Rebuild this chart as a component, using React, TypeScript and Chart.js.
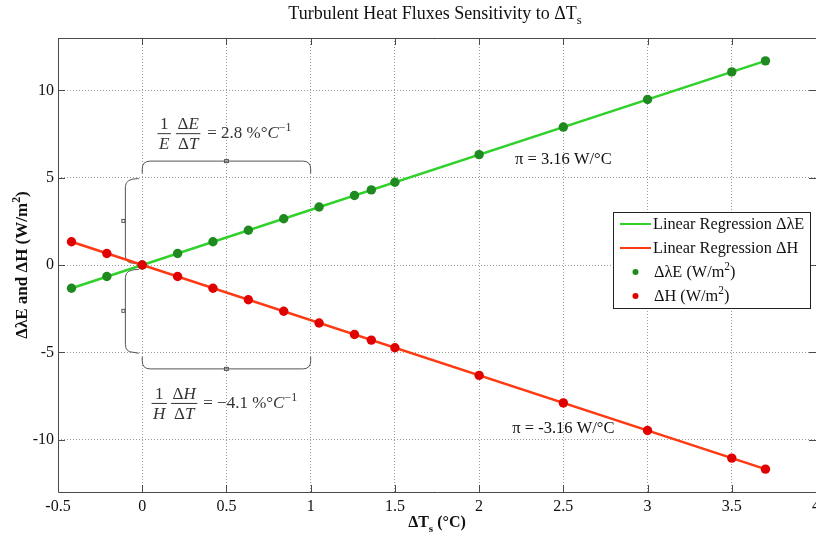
import React, { useEffect, useRef } from "react";
import { Chart, registerables } from "chart.js";

Chart.register(...registerables);

// Surface temperature perturbation (°C) and flux responses (W/m²)
const deltaTs = [-0.42, -0.21, 0, 0.21, 0.42, 0.63, 0.84, 1.05, 1.26, 1.36, 1.5, 2, 2.5, 3, 3.5, 3.7];
const deltaLE = [-1.33, -0.66, 0, 0.66, 1.33, 1.99, 2.65, 3.32, 3.98, 4.3, 4.74, 6.32, 7.9, 9.48, 11.06, 11.69];
const deltaH = [1.33, 0.66, 0, -0.66, -1.33, -1.99, -2.65, -3.32, -3.98, -4.3, -4.74, -6.32, -7.9, -9.48, -11.06, -11.69];

// Regression line end points
const fitTs = [-0.42, 3.7];
const fitLE = [-1.33, 11.69];
const fitH = [1.33, -11.69];

const xTickVals = [-0.5, 0, 0.5, 1, 1.5, 2, 2.5, 3, 3.5, 4];
const yTickVals = [-10, -5, 0, 5, 10];

const slopeLabels = ["π = 3.16 W/°C", "π = -3.16 W/°C"];
const sensLE = "2.8";
const sensH = "−4.1";

const SERIF = "'Liberation Serif', 'Times New Roman', serif";
const GREEN_LINE = "#2fd12a";
const GREEN_DOT = "#1f8a1f";
const RED_LINE = "#ff3a12";
const RED_DOT = "#e00000";

type Part = { t: string; italic?: boolean; sup?: boolean; sub?: boolean; bold?: boolean };

function runWidth(ctx: CanvasRenderingContext2D, parts: Part[], size: number) {
  let w = 0;
  for (const p of parts) {
    const s = p.sup || p.sub ? size * 0.7 : size;
    ctx.font = `${p.italic ? "italic " : ""}${p.bold ? "bold " : ""}${s}px ${SERIF}`;
    w += ctx.measureText(p.t).width;
  }
  return w;
}

function drawRun(
  ctx: CanvasRenderingContext2D,
  parts: Part[],
  x: number,
  y: number,
  size: number,
  align: "left" | "center" = "left"
) {
  let cx = align === "center" ? x - runWidth(ctx, parts, size) / 2 : x;
  ctx.textAlign = "left";
  ctx.textBaseline = "alphabetic";
  for (const p of parts) {
    const s = p.sup || p.sub ? size * 0.7 : size;
    ctx.font = `${p.italic ? "italic " : ""}${p.bold ? "bold " : ""}${s}px ${SERIF}`;
    const dy = p.sup ? -size * 0.4 : p.sub ? size * 0.3 : 0;
    ctx.fillText(p.t, cx, y + dy);
    cx += ctx.measureText(p.t).width;
  }
}

function drawFrac(ctx: CanvasRenderingContext2D, num: Part[], den: Part[], cx: number, barY: number, size: number) {
  const w = Math.max(runWidth(ctx, num, size), runWidth(ctx, den, size)) + 3;
  drawRun(ctx, num, cx, barY - 4, size, "center");
  drawRun(ctx, den, cx, barY + size - 1, size, "center");
  ctx.beginPath();
  ctx.moveTo(cx - w / 2, barY + 0.5);
  ctx.lineTo(cx + w / 2, barY + 0.5);
  ctx.lineWidth = 1;
  ctx.stroke();
}

// horizontal bracket: flat run at yFlat, ends hooked toward yEnd
function hBracket(ctx: CanvasRenderingContext2D, x0: number, x1: number, yFlat: number, yEnd: number) {
  const r = Math.min(8, Math.abs(yEnd - yFlat));
  const s = Math.sign(yEnd - yFlat);
  ctx.beginPath();
  ctx.moveTo(x0, yEnd);
  ctx.lineTo(x0, yFlat + s * r);
  ctx.quadraticCurveTo(x0, yFlat, x0 + r, yFlat);
  ctx.lineTo(x1 - r, yFlat);
  ctx.quadraticCurveTo(x1, yFlat, x1, yFlat + s * r);
  ctx.lineTo(x1, yEnd);
  ctx.stroke();
  const mx = (x0 + x1) / 2;
  ctx.strokeRect(mx - 2, yFlat - 1.5, 4, 3);
}

// vertical bracket: flat run at xFlat, ends hooked toward xEnd
function vBracket(ctx: CanvasRenderingContext2D, y0: number, y1: number, xFlat: number, xEnd: number) {
  const r = Math.min(8, Math.abs(xEnd - xFlat));
  const s = Math.sign(xEnd - xFlat);
  ctx.beginPath();
  ctx.moveTo(xEnd, y0);
  ctx.quadraticCurveTo(xFlat, y0, xFlat, y0 + r);
  ctx.lineTo(xFlat, y1 - r);
  ctx.quadraticCurveTo(xFlat, y1, xFlat + s * r, y1);
  ctx.lineTo(xEnd, y1 + 1);
  ctx.stroke();
  const my = (y0 + y1) / 2;
  ctx.strokeRect(xFlat - 3.5, my - 1.5, 3, 3);
}

const decorations = {
  id: "decorations",
  beforeDatasetsDraw(chart: any) {
    const { ctx, chartArea: a, scales } = chart;
    const xs = scales.x;
    const ys = scales.y;
    ctx.save();
    // plot frame
    ctx.strokeStyle = "#4a4a4a";
    ctx.lineWidth = 1;
    ctx.beginPath();
    ctx.moveTo(a.right + 5, Math.round(a.top) + 0.5);
    ctx.lineTo(Math.round(a.left) + 0.5, Math.round(a.top) + 0.5);
    ctx.lineTo(Math.round(a.left) + 0.5, Math.round(a.bottom) + 0.5);
    ctx.lineTo(a.right + 5, Math.round(a.bottom) + 0.5);
    ctx.stroke();
    // inward tick marks
    ctx.beginPath();
    for (const v of xTickVals) {
      const px = Math.round(xs.getPixelForValue(v)) + 0.5;
      ctx.moveTo(px, a.top);
      ctx.lineTo(px, a.top + 7);
      ctx.moveTo(px, a.bottom);
      ctx.lineTo(px, a.bottom - 7);
    }
    for (const v of yTickVals) {
      const py = Math.round(ys.getPixelForValue(v)) + 0.5;
      ctx.moveTo(a.left, py);
      ctx.lineTo(a.left + 7, py);
      ctx.moveTo(a.right, py);
      ctx.lineTo(a.right - 7, py);
    }
    ctx.stroke();

    // brackets
    ctx.strokeStyle = "#555";
    ctx.lineWidth = 1;
    const bx0 = xs.getPixelForValue(0);
    const bx1 = xs.getPixelForValue(1.0);
    hBracket(ctx, bx0, bx1, ys.getPixelForValue(5.95), ys.getPixelForValue(5.25));
    hBracket(ctx, bx0, bx1, ys.getPixelForValue(-5.95), ys.getPixelForValue(-5.25));
    const lx = xs.getPixelForValue(-0.1);
    const le = xs.getPixelForValue(-0.02);
    vBracket(ctx, ys.getPixelForValue(4.95), ys.getPixelForValue(0.1), lx, le);
    vBracket(ctx, ys.getPixelForValue(-0.25), ys.getPixelForValue(-5.0), lx, le);
    ctx.restore();
  },
  afterDatasetsDraw(chart: any) {
    const { ctx, chartArea: a, scales } = chart;
    const xs = scales.x;
    const ys = scales.y;
    ctx.save();

    // sensitivity expressions
    ctx.fillStyle = "#333";
    ctx.strokeStyle = "#333";
    const ox = xs.getPixelForValue(0);
    const topBar = ys.getPixelForValue(7.55);
    drawFrac(ctx, [{ t: "1" }], [{ t: "E", italic: true }], ox + 22, topBar, 17);
    drawFrac(ctx, [{ t: "Δ" }, { t: "E", italic: true }], [{ t: "Δ" }, { t: "T", italic: true }], ox + 46, topBar, 17);
    drawRun(ctx, [{ t: "= " + sensLE + " %°" }, { t: "C", italic: true }, { t: "−1", sup: true }], ox + 65, topBar + 5, 17);

    const botBar = ys.getPixelForValue(-7.9);
    drawFrac(ctx, [{ t: "1" }], [{ t: "H", italic: true }], ox + 17, botBar, 17);
    drawFrac(ctx, [{ t: "Δ" }, { t: "H", italic: true }], [{ t: "Δ" }, { t: "T", italic: true }], ox + 42, botBar, 17);
    drawRun(ctx, [{ t: "= " + sensH + " %°" }, { t: "C", italic: true }, { t: "−1", sup: true }], ox + 61, botBar + 5, 17);

    // slope labels
    ctx.fillStyle = "#111";
    drawRun(ctx, [{ t: slopeLabels[0] }], xs.getPixelForValue(2.5), ys.getPixelForValue(5.8), 16.5, "center");
    drawRun(ctx, [{ t: slopeLabels[1] }], xs.getPixelForValue(2.5), ys.getPixelForValue(-9.6), 16.5, "center");

    // legend
    const lx = 613.5;
    const ly = 212.5;
    const lw = 197;
    const lh = 96;
    ctx.fillStyle = "#fff";
    ctx.fillRect(lx, ly, lw, lh);
    ctx.strokeStyle = "#222";
    ctx.lineWidth = 1;
    ctx.strokeRect(lx, ly, lw, lh);
    const ds = chart.data.datasets;
    const rowY = [224, 248, 272, 296];
    const legendParts: Part[][] = [
      [{ t: ds[0].label }],
      [{ t: ds[1].label }],
      [{ t: "ΔλE (W/m" }, { t: "2", sup: true }, { t: ")" }],
      [{ t: "ΔH (W/m" }, { t: "2", sup: true }, { t: ")" }],
    ];
    for (let i = 0; i < 4; i++) {
      const y = rowY[i];
      if (i < 2) {
        ctx.strokeStyle = ds[i].borderColor;
        ctx.lineWidth = 2;
        ctx.beginPath();
        ctx.moveTo(620, y);
        ctx.lineTo(651, y);
        ctx.stroke();
      } else {
        ctx.fillStyle = ds[i].backgroundColor;
        ctx.beginPath();
        ctx.arc(635.5, y, 3, 0, Math.PI * 2);
        ctx.fill();
      }
      ctx.fillStyle = "#111";
      drawRun(ctx, legendParts[i], i < 2 ? 653 : 654, y + 5, 16.3, "left");
    }

    // title and axis titles
    ctx.fillStyle = "#111";
    const cx = (a.left + a.right) / 2;
    drawRun(ctx, [{ t: "Turbulent Heat Fluxes Sensitivity to ΔT" }, { t: "s", sub: true }], cx - 2, 19, 18, "center");
    drawRun(ctx, [{ t: "ΔT", bold: true }, { t: "s", bold: true, sub: true }, { t: " (°C)", bold: true }], cx, 527, 16, "center");
    ctx.save();
    ctx.translate(27, (a.top + a.bottom) / 2);
    ctx.rotate(-Math.PI / 2);
    drawRun(ctx, [{ t: "ΔλE and ΔH (W/m", bold: true }, { t: "2", bold: true, sup: true }, { t: ")", bold: true }], 0, 0, 17, "center");
    ctx.restore();

    ctx.restore();
  },
};

export default function App() {
  const canvasRef = useRef<HTMLCanvasElement>(null);

  useEffect(() => {
    if (!canvasRef.current) return;
    const pts = (xs: number[], ys: number[]) => xs.map((x, i) => ({ x, y: ys[i] }));
    const chart = new Chart(canvasRef.current, {
      type: "line",
      data: {
        datasets: [
          {
            label: "Linear Regression ΔλE",
            data: pts(fitTs, fitLE),
            borderColor: GREEN_LINE,
            backgroundColor: GREEN_LINE,
            borderWidth: 2.5,
            pointRadius: 0,
            order: 3,
          },
          {
            label: "Linear Regression ΔH",
            data: pts(fitTs, fitH),
            borderColor: RED_LINE,
            backgroundColor: RED_LINE,
            borderWidth: 2.5,
            pointRadius: 0,
            order: 2,
          },
          {
            label: "ΔλE (W/m²)",
            data: pts(deltaTs, deltaLE),
            showLine: false,
            backgroundColor: GREEN_DOT,
            borderColor: GREEN_DOT,
            borderWidth: 0,
            pointRadius: 4.7,
            order: 1,
          },
          {
            label: "ΔH (W/m²)",
            data: pts(deltaTs, deltaH),
            showLine: false,
            backgroundColor: RED_DOT,
            borderColor: RED_DOT,
            borderWidth: 0,
            pointRadius: 4.7,
            order: 0,
          },
        ],
      },
      options: {
        responsive: false,
        animation: false,
        devicePixelRatio: 1,
        layout: { autoPadding: false, padding: { top: 38, left: 0, right: 0, bottom: 0 } },
        plugins: { legend: { display: false }, tooltip: { enabled: false }, title: { display: false } },
        scales: {
          x: {
            type: "linear",
            min: -0.5,
            max: 4,
            afterBuildTicks: (s: any) => {
              s.ticks = xTickVals.map((v) => ({ value: v }));
            },
            afterFit: (s: any) => {
              s.height = 47;
              s.paddingLeft = 0;
              s.paddingRight = 0;
            },
            ticks: {
              autoSkip: false,
              maxRotation: 0,
              padding: 5,
              color: "#111",
              font: { family: SERIF, size: 16 },
              callback: (v: any) => String(v),
            },
            grid: { color: "#9a9a9a", lineWidth: 1, drawTicks: false },
            border: { display: false, dash: [1, 2] },
          },
          y: {
            type: "linear",
            min: -13,
            max: 13,
            afterBuildTicks: (s: any) => {
              s.ticks = yTickVals.map((v) => ({ value: v }));
            },
            afterFit: (s: any) => {
              s.width = 58;
              s.paddingTop = 0;
              s.paddingBottom = 0;
            },
            ticks: {
              padding: 4,
              color: "#111",
              font: { family: SERIF, size: 16 },
              callback: (v: any) => String(v),
            },
            grid: { color: "#9a9a9a", lineWidth: 1, drawTicks: false },
            border: { display: false, dash: [1, 2] },
          },
        },
      },
      plugins: [decorations],
    } as any);
    return () => chart.destroy();
  }, []);

  return (
    <div style={{ position: "absolute", left: 0, top: 0, width: 816, height: 539, background: "#fff" }}>
      <canvas ref={canvasRef} width={816} height={539} style={{ display: "block", width: 816, height: 539 }} />
    </div>
  );
}
